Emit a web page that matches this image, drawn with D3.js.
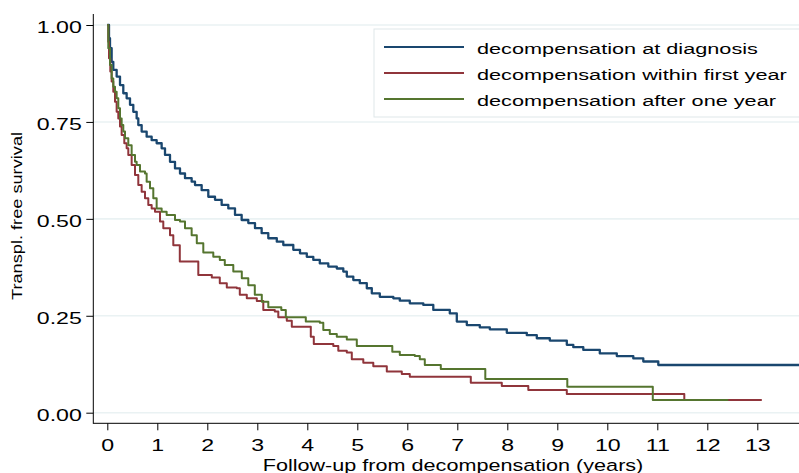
<!DOCTYPE html>
<html>
<head>
<meta charset="utf-8">
<script src="https://cdn.jsdelivr.net/npm/d3@7"></script>
<style>
  body { margin: 0; background: #fff; }
  svg { display: block; }
  text { font-family: "Liberation Sans", Arial, Helvetica, sans-serif; fill: #000; }
</style>
</head>
<body>
<div id="chart"></div>
<script>
// series names + colours (Stata s2color: navy, maroon, forest green)
const seriesNames = [
  'decompensation at diagnosis',
  'decompensation within first year',
  'decompensation after one year',
];
const seriesColors = ['#1a476f', '#90353b', '#55752f'];

// Kaplan-Meier steps: [years, survival]
const atDiagnosis = [
  [0, 1], [0.034, 0.966], [0.054, 0.94], [0.087, 0.905], [0.12, 0.884],
  [0.187, 0.867], [0.254, 0.845], [0.32, 0.824], [0.387, 0.811], [0.454, 0.794],
  [0.52, 0.776], [0.587, 0.759], [0.62, 0.742], [0.687, 0.725], [0.787, 0.712],
  [0.887, 0.703], [0.987, 0.695], [1.087, 0.682], [1.154, 0.665], [1.254, 0.647],
  [1.354, 0.63], [1.454, 0.617], [1.554, 0.605], [1.687, 0.596], [1.754, 0.587],
  [1.887, 0.574], [2.02, 0.557], [2.154, 0.549], [2.287, 0.536], [2.42, 0.527],
  [2.554, 0.51], [2.687, 0.497], [2.82, 0.489], [2.954, 0.476], [3.087, 0.463],
  [3.22, 0.45], [3.39, 0.441], [3.52, 0.4325], [3.72, 0.42], [3.854, 0.411],
  [3.99, 0.402], [4.12, 0.394], [4.25, 0.385], [4.42, 0.377], [4.59, 0.372],
  [4.72, 0.364], [4.79, 0.351], [4.92, 0.342], [5.05, 0.334], [5.19, 0.321],
  [5.29, 0.308], [5.45, 0.299], [5.72, 0.295], [5.85, 0.289],
  [6.05, 0.282], [6.32, 0.278], [6.52, 0.265], [6.85, 0.256], [6.99, 0.235],
  [7.19, 0.226], [7.45, 0.22], [7.65, 0.215], [7.99, 0.206], [8.39, 0.2],
  [8.59, 0.192], [8.85, 0.186], [9.19, 0.175], [9.32, 0.169], [9.52, 0.162],
  [9.85, 0.153], [10.19, 0.146], [10.52, 0.14], [10.72, 0.132], [11.02, 0.123],
  [13.84, 0.123],
];
const withinFirstYear = [
  [0, 1], [0.02, 0.957], [0.034, 0.914], [0.06, 0.88], [0.087, 0.854],
  [0.12, 0.828], [0.154, 0.802], [0.187, 0.776], [0.22, 0.759], [0.254, 0.738],
  [0.287, 0.716], [0.34, 0.695], [0.387, 0.682], [0.42, 0.665], [0.487, 0.639],
  [0.554, 0.613], [0.62, 0.587], [0.687, 0.57], [0.754, 0.553], [0.82, 0.536],
  [0.887, 0.527], [0.954, 0.518], [1.054, 0.493], [1.12, 0.476], [1.254, 0.458],
  [1.32, 0.432], [1.45, 0.39], [1.82, 0.355], [2.09, 0.349], [2.25, 0.334],
  [2.39, 0.323], [2.59, 0.321], [2.65, 0.304], [2.79, 0.295], [2.99, 0.288],
  [3.12, 0.265], [3.35, 0.261], [3.42, 0.246], [3.59, 0.237], [3.69, 0.222],
  [4.07, 0.196], [4.13, 0.177], [4.52, 0.172], [4.62, 0.16], [4.79, 0.155],
  [4.89, 0.138], [5.12, 0.129], [5.32, 0.12], [5.59, 0.106], [5.89, 0.1],
  [6.05, 0.093], [7.27, 0.077], [7.89, 0.069], [8.42, 0.0585], [9.19, 0.048],
  [11.54, 0.033], [13.09, 0.033],
];
const afterOneYear = [
  [0, 1], [0.02, 0.94], [0.054, 0.897], [0.087, 0.862], [0.12, 0.841],
  [0.154, 0.828], [0.187, 0.811], [0.22, 0.785], [0.254, 0.759], [0.287, 0.742],
  [0.32, 0.725], [0.354, 0.708], [0.42, 0.69], [0.487, 0.665], [0.554, 0.647],
  [0.587, 0.639], [0.654, 0.622], [0.754, 0.617], [0.787, 0.596], [0.854, 0.579],
  [0.92, 0.553], [0.987, 0.527], [1.087, 0.518], [1.187, 0.51], [1.354, 0.497],
  [1.454, 0.493], [1.554, 0.476], [1.687, 0.458], [1.79, 0.437], [1.92, 0.413],
  [2.12, 0.402], [2.25, 0.394], [2.35, 0.381], [2.52, 0.364], [2.69, 0.347],
  [2.82, 0.329], [2.95, 0.304], [3.09, 0.286], [3.22, 0.272], [3.48, 0.265],
  [3.57, 0.246], [3.97, 0.235], [4.25, 0.232], [4.32, 0.213], [4.45, 0.203],
  [4.59, 0.196], [4.79, 0.189], [4.99, 0.172], [5.7, 0.157], [5.85, 0.149],
  [6.15, 0.146], [6.25, 0.138], [6.35, 0.123], [6.67, 0.113], [7.56, 0.087],
  [9.2, 0.067], [10.91, 0.033], [12.42, 0.033],
];
const seriesData = [atDiagnosis, withinFirstYear, afterOneYear];

const yTicks = [0, 0.25, 0.5, 0.75, 1];
const xTicks = [0, 1, 2, 3, 4, 5, 6, 7, 8, 9, 10, 11, 12, 13];

const width = 799;
const height = 473;
const axisX = 93.3; // y axis line
const axisY = 423.3; // x axis line
const font = '"Liberation Sans", Arial, Helvetica, sans-serif';

const svg = d3
  .select('#chart')
  .append('svg')
  .attr('width', width)
  .attr('height', height);

const xScale = d3.scaleLinear().domain([0, 13]).range([107.3, 757.3]);
const yScale = d3.scaleLinear().domain([0, 1]).range([412.7, 25]);

// grid
svg
  .append('g')
  .selectAll('line')
  .data(yTicks)
  .join('line')
  .attr('x1', axisX)
  .attr('x2', width)
  .attr('y1', (d) => yScale(d))
  .attr('y2', (d) => yScale(d))
  .attr('stroke', '#eaf2f3')
  .attr('stroke-width', 1.6);

// y axis
const yAxis = svg
  .append('g')
  .attr('transform', `translate(${axisX},0)`)
  .call(
    d3.axisLeft(yScale).tickValues(yTicks).tickSize(7).tickFormat(d3.format('.2f'))
  )
  .attr('font-size', 17)
  .attr('font-family', font);
yAxis.select('.domain').remove();
yAxis.selectAll('.tick line').attr('stroke', '#000');
yAxis
  .selectAll('.tick text')
  .attr('x', null)
  .attr('dy', null)
  .attr('transform', 'translate(-11.5,7.7) scale(1.36,1)');
svg
  .append('line')
  .attr('x1', axisX)
  .attr('x2', axisX)
  .attr('y1', 14)
  .attr('y2', axisY + 0.5)
  .attr('stroke', '#000');

// x axis
const xAxis = svg
  .append('g')
  .attr('transform', `translate(0,${axisY})`)
  .call(d3.axisBottom(xScale).tickValues(xTicks).tickSize(7))
  .attr('font-size', 17)
  .attr('font-family', font);
xAxis.select('.domain').remove();
xAxis.selectAll('.tick line').attr('stroke', '#000');
xAxis
  .selectAll('.tick text')
  .attr('y', null)
  .attr('dy', null)
  .attr('transform', 'translate(0,28) scale(1.36,1)');
svg
  .append('line')
  .attr('x1', axisX)
  .attr('x2', width)
  .attr('y1', axisY)
  .attr('y2', axisY)
  .attr('stroke', '#000');

// curves
const line = d3
  .line()
  .x((d) => xScale(d[0]))
  .y((d) => yScale(d[1]))
  .curve(d3.curveStepAfter);

svg
  .append('g')
  .selectAll('path')
  .data(seriesData)
  .join('path')
  .attr('d', line)
  .attr('fill', 'none')
  .attr('stroke', (d, i) => seriesColors[i])
  .attr('stroke-width', (d, i) => (i === 0 ? 2.3 : 2))
  .attr('stroke-linejoin', 'round');

// legend
const legend = svg.append('g');
legend
  .append('rect')
  .attr('x', 374)
  .attr('y', 29)
  .attr('width', 440)
  .attr('height', 88)
  .attr('fill', '#fff')
  .attr('stroke', '#dfe7e9');

const entries = legend
  .selectAll('.entry')
  .data(seriesNames)
  .join('g')
  .attr('class', 'entry')
  .attr('transform', (d, i) => `translate(0,${47 + i * 26})`);
entries
  .append('line')
  .attr('x1', 384)
  .attr('x2', 464)
  .attr('stroke', (d, i) => seriesColors[i])
  .attr('stroke-width', 2);
entries
  .append('text')
  .attr('transform', 'translate(477,7.3) scale(1.4,1)')
  .style('font-size', '15.5px')
  .text((d) => d);

// axis titles
svg
  .append('text')
  .attr('transform', 'translate(453,470.5) scale(1.31,1)')
  .attr('text-anchor', 'middle')
  .style('font-size', '16.5px')
  .text('Follow-up from decompensation (years)');

svg
  .append('text')
  .attr('transform', 'translate(22,216) rotate(-90) scale(1.3,1)')
  .attr('text-anchor', 'middle')
  .style('font-size', '14px')
  .text('Transpl. free survival');
</script>
</body>
</html>
